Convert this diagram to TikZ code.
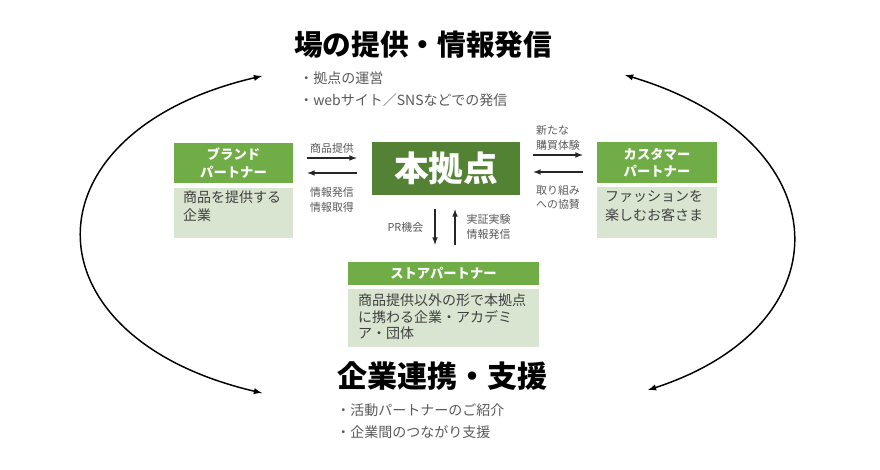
\documentclass[tikz,border=0pt]{standalone}
\usepackage{fontspec}
\setmainfont{Noto Sans CJK JP}
\usetikzlibrary{calc}

\definecolor{leafgreen}{HTML}{70AD47}
\definecolor{palegreen}{HTML}{DAE5D1}
\definecolor{darkgreen}{HTML}{548235}
\definecolor{inkgrey}{HTML}{595959}
\newcommand{\pxu}{0.75pt}

\tikzset{
  headbox/.style={fill=leafgreen, text=white, align=center, inner sep=0pt,
    font=\fontsize{10}{13}\selectfont\bfseries},
  bodybox/.style={fill=palegreen, inner sep=0pt},
  bodytext/.style={anchor=north west, text=black!75, align=left, inner sep=0pt,
    font=\fontsize{10.5}{13.5}\selectfont},
  flow/.style={->, >=latex, line width=0.9pt, black!85},
  tag/.style={text=inkgrey, align=left, font=\fontsize{8.2}{11}\selectfont},
  bullet/.style={anchor=west, text=inkgrey, inner sep=0pt,
    font=\fontsize{10.5}{13}\selectfont},
  heading/.style={inner sep=0pt, font=\fontsize{21.5}{24}\selectfont\bfseries},
  loop/.style={<->, >=latex, line width=1.1pt},
}

\begin{document}
\begin{tikzpicture}[x=0.75pt, y=-0.75pt]
  \useasboundingbox (0,0) rectangle (880,470);

  \coordinate (lt) at (262,76);
  \coordinate (lb) at (262,393);
  \coordinate (rt) at (625,75);
  \coordinate (rb) at (648,390);
  \draw[loop] (lt) .. controls (22,132) and (22,337) .. (lb);
  \draw[loop] (rt) .. controls (842,140) and (848,325) .. (rb);

  \node[heading] (place) at (423,45) {場の提供・情報発信};
  \node[bullet] (place1) at (299,78) {・拠点の運営};
  \node[bullet] (place2) at (299,100) {・webサイト／SNSなどでの発信};

  \node[heading, font=\fontsize{22.5}{25}\selectfont\bfseries] (link) at (442,376) {企業連携・支援};
  \node[bullet] (link1) at (336,410) {・活動パートナーのご紹介};
  \node[bullet] (link2) at (336,432) {・企業間のつながり支援};

  \node[fill=darkgreen, text=white, minimum width=148*\pxu, minimum height=53*\pxu,
    font=\fontsize{26}{30}\selectfont\bfseries] (hub) at (446,168.5) {本拠点};

  \node[headbox, minimum width=119*\pxu, minimum height=40*\pxu] (brandhead) at (233.5,163) {ブランド\\パートナー};
  \node[bodybox, minimum width=119*\pxu, minimum height=50*\pxu] (brandbody) at (233.5,213) {};
  \node[bodytext] (brandtext) at ($(brandbody.north west)+(9,3)$) {商品を提供する\\企業};

  \node[headbox, minimum width=120*\pxu, minimum height=41*\pxu] (custhead) at (657,162.5) {カスタマー\\パートナー};
  \node[bodybox, minimum width=120*\pxu, minimum height=51*\pxu] (custbody) at (657,212.5) {};
  \node[bodytext, font=\fontsize{10.5}{14.2}\selectfont] (custtext) at ($(custbody.north west)+(8,3)$) {ファッションを\\楽しむお客さま};

  \node[headbox, minimum width=191*\pxu, minimum height=23*\pxu] (storehead) at (443.5,273.5) {ストアパートナー};
  \node[bodybox, minimum width=191*\pxu, minimum height=58*\pxu] (storebody) at (443.5,318) {};
  \node[bodytext, font=\fontsize{10.5}{12.4}\selectfont] (storetext) at ($(storebody.north west)+(10,5)$) {商品提供以外の形で本拠点\\に携わる企業・アカデミ\\ア・団体};

  \draw[flow] ($(brandhead.east)+(14,-5)$) -- ($(hub.west)+(-15,-10.5)$)
    node[tag, midway, above] {商品提供};
  \draw[flow] ($(hub.west)+(-15,4.5)$) -- ($(brandhead.east)+(14,10)$)
    node[tag, midway, below, yshift=-7] {情報発信\\情報取得};

  \draw[flow] ($(hub.east)+(13,-13.5)$) -- ($(custhead.west)+(-14,-7.5)$)
    node[tag, midway, above] {新たな\\購買体験};
  \draw[flow] ($(custhead.west)+(-14,9.5)$) -- ($(hub.east)+(13,3.5)$)
    node[tag, midway, below, align=center, yshift=-6] {取り組み\\への協賛};

  \draw[flow] ($(hub.south)+(-11,14)$) -- ($(storehead.north)+(-8.5,-17)$)
    node[tag, midway, left, xshift=-5] {PR機会};
  \draw[flow] ($(storehead.north)+(11.5,-17)$) -- ($(hub.south)+(9,14)$)
    node[tag, midway, right, xshift=5] {実証実験\\情報発信};
\end{tikzpicture}
\end{document}
